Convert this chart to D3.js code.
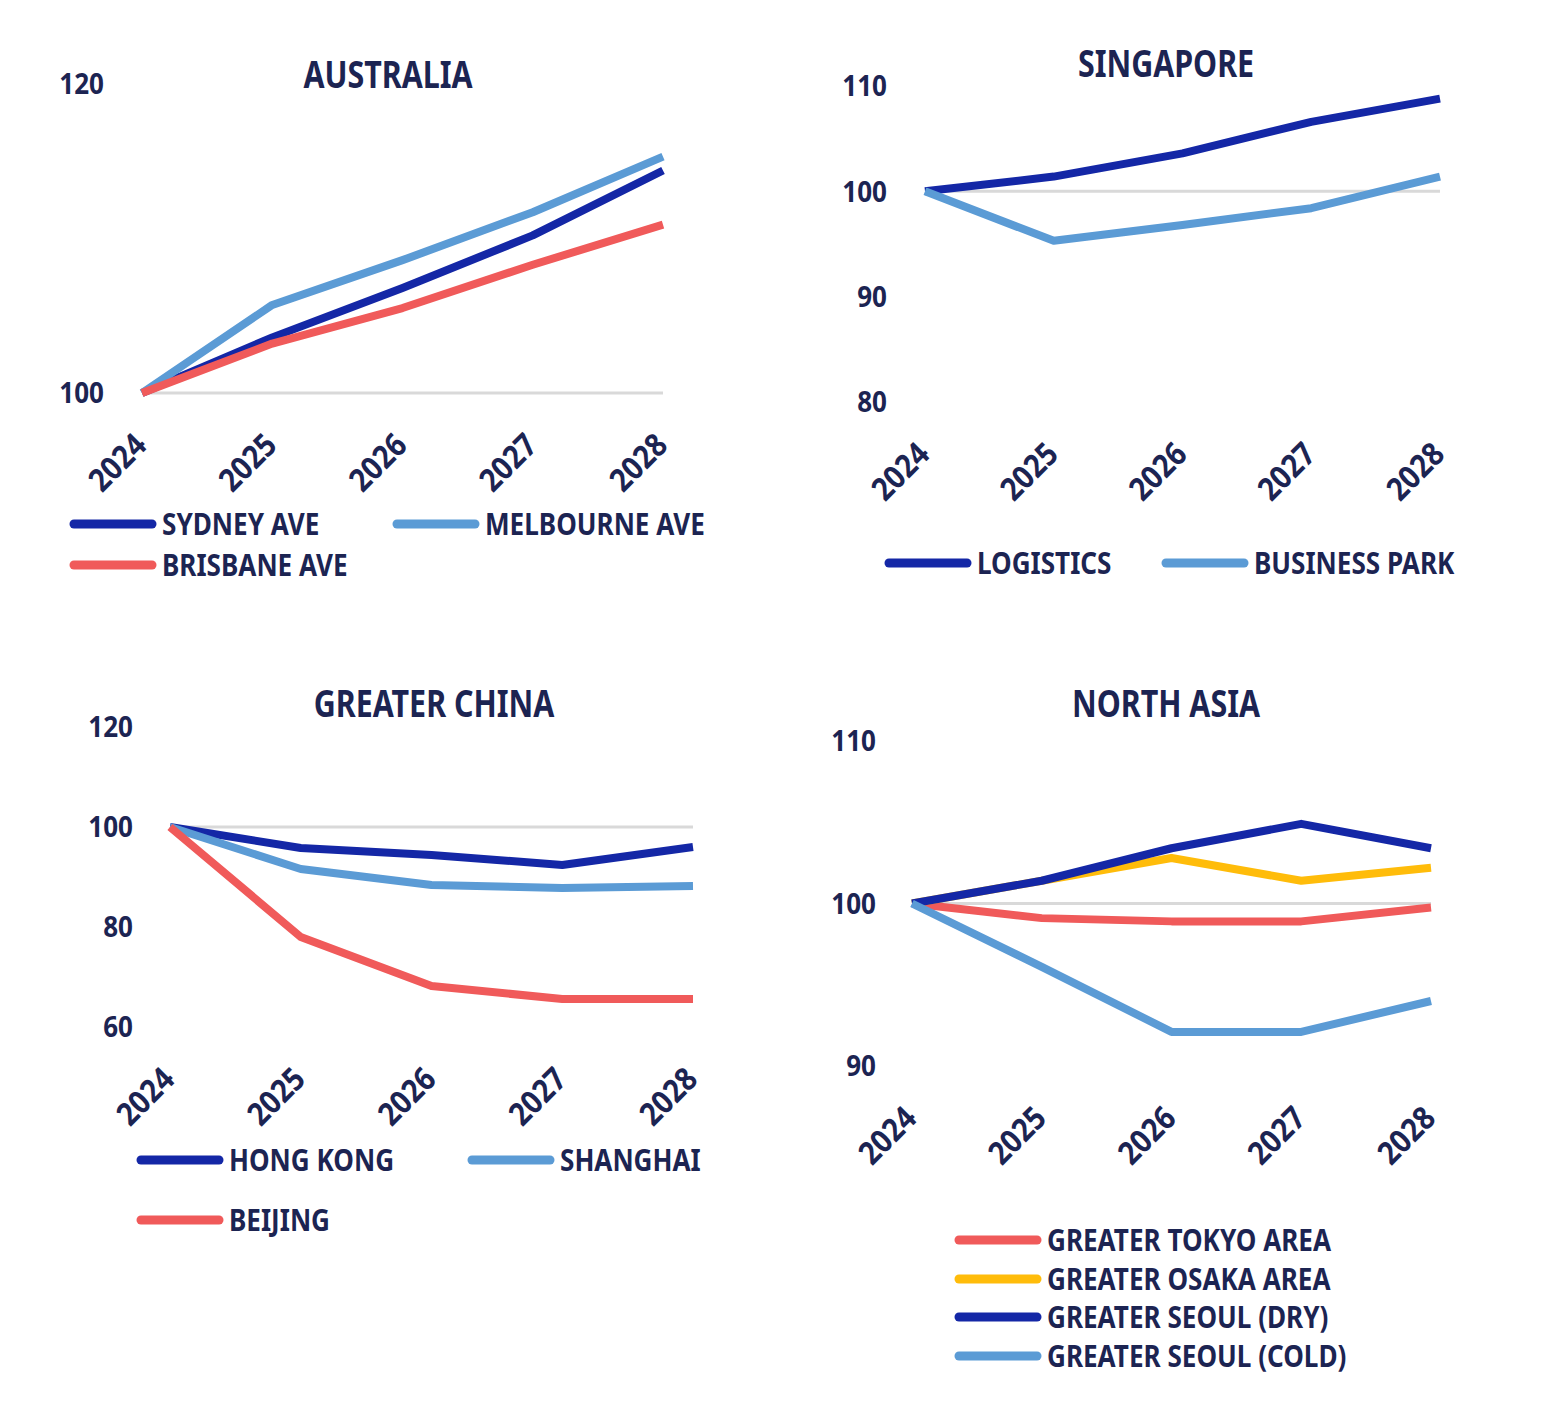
<!DOCTYPE html>
<html><head><meta charset="utf-8">
<script src="https://cdn.jsdelivr.net/npm/d3@7"></script>
<style>
html,body{margin:0;padding:0;background:#fff;}
text{font-family:"Noto Sans","Open Sans",sans-serif;font-weight:bold;fill:#1c2452;}
</style></head>
<body>
<svg id="chart" width="1550" height="1401"></svg>
<script>
const years = ["2024","2025","2026","2027","2028"];

// Australia
const auTicks = [100, 120];
const sydney = [100, 103.6, 106.8, 110.2, 114.4];
const melbourne = [100, 105.7, 108.6, 111.7, 115.3];
const brisbane = [100, 103.2, 105.5, 108.3, 110.9];

// Singapore
const sgTicks = [80, 90, 100, 110];
const logistics = [100, 101.4, 103.6, 106.6, 108.8];
const businessPark = [100, 95.3, 96.8, 98.4, 101.4];

// Greater China
const gcTicks = [60, 80, 100, 120];
const hongKong = [100, 95.8, 94.4, 92.4, 96.0];
const shanghai = [100, 91.6, 88.4, 87.8, 88.2];
const beijing = [100, 78.0, 68.2, 65.6, 65.6];

// North Asia
const naTicks = [90, 100, 110];
const tokyo = [100, 99.1, 98.9, 98.9, 99.75];
const osaka = [100, 101.4, 102.8, 101.4, 102.2];
const seoulDry = [100, 101.4, 103.4, 104.9, 103.4];
const seoulCold = [100, 96.1, 92.1, 92.1, 94.0];

const C = {dark:"#1427A6", light:"#5B9BD5", red:"#F05A5A", yellow:"#FFBC0A"};
const SX = 0.87; // horizontal condense factor for legend

const panels = [
  {title:"AUSTRALIA", titleX:388, titleY:88, x0:142, x1:663, dom:[100,120], y0:393, y1:84, ticks:auTicks, labelRight:104,
   series:[{name:"SYDNEY AVE", v:sydney, c:C.dark},{name:"MELBOURNE AVE", v:melbourne, c:C.light},{name:"BRISBANE AVE", v:brisbane, c:C.red}],
   legend:[[70,524],[393,524],[70,565]]},
  {title:"SINGAPORE", titleX:1166, titleY:77, x0:925, x1:1440, dom:[80,110], y0:402, y1:86, ticks:sgTicks, labelRight:887,
   series:[{name:"LOGISTICS", v:logistics, c:C.dark},{name:"BUSINESS PARK", v:businessPark, c:C.light}],
   legend:[[885,563],[1162,563]]},
  {title:"GREATER CHINA", titleX:434, titleY:717, x0:170, x1:693, dom:[60,120], y0:1027, y1:727, ticks:gcTicks, labelRight:133,
   series:[{name:"HONG KONG", v:hongKong, c:C.dark},{name:"SHANGHAI", v:shanghai, c:C.light},{name:"BEIJING", v:beijing, c:C.red}],
   legend:[[137,1160],[468,1160],[137,1220]]},
  {title:"NORTH ASIA", titleX:1166, titleY:717, x0:912, x1:1431, dom:[90,110], y0:1066, y1:741, ticks:naTicks, labelRight:876,
   series:[{name:"GREATER TOKYO AREA", v:tokyo, c:C.red},{name:"GREATER OSAKA AREA", v:osaka, c:C.yellow},{name:"GREATER SEOUL (DRY)", v:seoulDry, c:C.dark},{name:"GREATER SEOUL (COLD)", v:seoulCold, c:C.light}],
   legend:[[955,1240],[955,1279],[955,1317],[955,1356]]}
];

const svg = d3.select("#chart");

panels.forEach(p => {
  const g = svg.append("g");
  const x = d3.scalePoint().domain(years).range([p.x0, p.x1]);
  const y = d3.scaleLinear().domain(p.dom).range([p.y0, p.y1]);

  g.append("g").attr("transform", `translate(${p.titleX},${p.titleY}) scale(0.8,1)`)
    .append("text").attr("text-anchor","middle")
    .style("font-size","38px").text(p.title);

  // y axis labels
  const yAxis = d3.axisLeft(y).tickValues(p.ticks).tickSize(0).tickPadding(0);
  const ya = g.append("g").attr("transform", `translate(${p.labelRight},0)`).call(yAxis);
  ya.select(".domain").remove();
  ya.selectAll("text").style("font-size","28px").attr("x",0).attr("dy","0.35em")
    .attr("transform", `scale(0.93,1)`);

  // baseline at 100
  g.append("line").attr("x1", p.x0).attr("x2", p.x1).attr("y1", y(100)).attr("y2", y(100))
    .attr("stroke","#d9d9d9").attr("stroke-width",3);

  // x axis labels
  const xAxis = d3.axisBottom(x).tickSize(0).tickPadding(0);
  const xa = g.append("g").attr("transform", `translate(0,${p.y0})`).call(xAxis);
  xa.select(".domain").remove();
  xa.selectAll("text").style("font-size","32px").attr("text-anchor","end")
    .attr("y",0).attr("dy",0)
    .attr("transform","translate(6,54) rotate(-45) scale(0.9,1)");

  const line = d3.line().x((d,i) => x(years[i])).y(d => y(d));
  p.series.forEach(s => {
    g.append("path").datum(s.v).attr("d", line).attr("fill","none")
      .attr("stroke", s.c).attr("stroke-width", 8).attr("stroke-linejoin","round").attr("stroke-linecap","butt");
  });

  // legend
  p.series.forEach((s, i) => {
    const [lx, ly] = p.legend[i];
    g.append("line").attr("x1", lx+4).attr("x2", lx+82).attr("y1", ly).attr("y2", ly)
      .attr("stroke", s.c).attr("stroke-width", 9).attr("stroke-linecap","round");
    g.append("g").attr("transform", `translate(${lx+92},${ly}) scale(${SX},1)`)
      .append("text").attr("dy","0.36em")
      .style("font-size","30px").text(s.name);
  });
});
</script>
</body></html>
